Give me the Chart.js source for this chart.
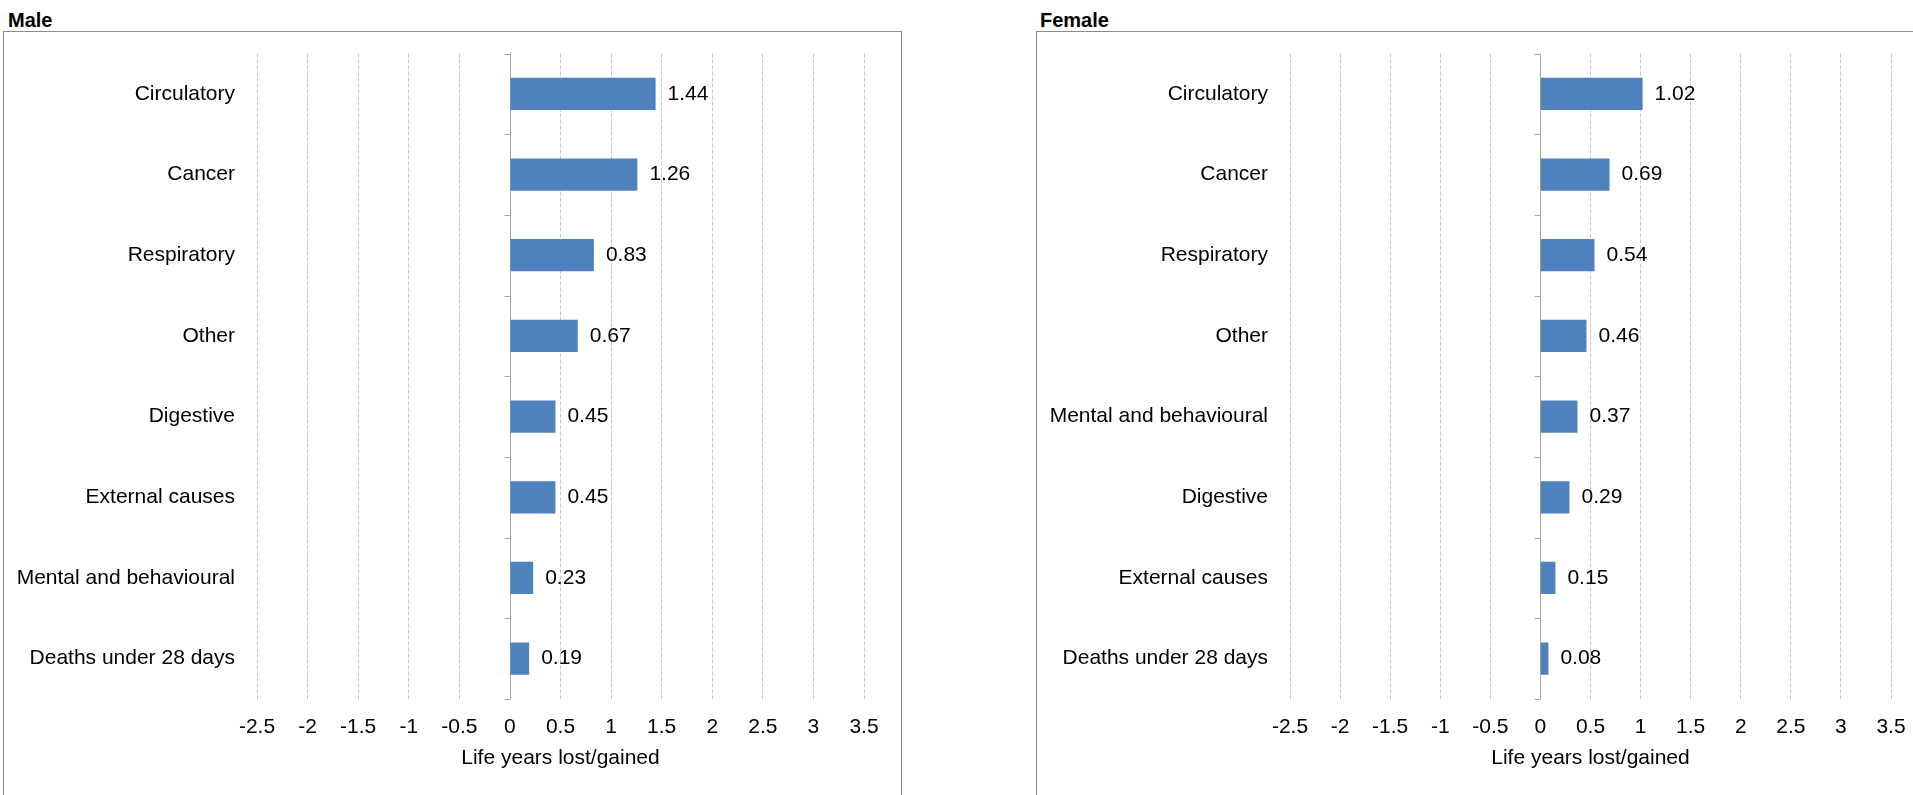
<!DOCTYPE html>
<html>
<head>
<meta charset="utf-8">
<title>Life years lost/gained by cause of death</title>
<script src="https://cdn.jsdelivr.net/npm/chart.js@4.4.0/dist/chart.umd.min.js"></script>
<style>
  html, body { margin: 0; padding: 0; background: #fff; overflow: hidden; width: 1913px; height: 795px; }
  .panel-title { position: absolute; font: bold 20px "Liberation Sans", Arial, sans-serif; color: #000; line-height: 24px; }
  .box { position: absolute; top: 31px; height: 780px; border: 1px solid #8c8c8c; }
  .box canvas { display: block; }
</style>
</head>
<body>
<div class="panel-title" style="left:8px; top:8px;">Male</div>
<div class="box" style="left:3px; width:897px;"><canvas id="maleChart" width="897" height="763"></canvas></div>
<div class="panel-title" style="left:1040px; top:8px;">Female</div>
<div class="box" style="left:1036px; width:897px;"><canvas id="femaleChart" width="897" height="763"></canvas></div>

<script>
// Causes of death, ordered by size within each sex
const maleCauses = [
  "Circulatory", "Cancer", "Respiratory", "Other", "Digestive",
  "External causes", "Mental and behavioural", "Deaths under 28 days"
];
const maleYears = [1.44, 1.26, 0.83, 0.67, 0.45, 0.45, 0.23, 0.19];

const femaleCauses = [
  "Circulatory", "Cancer", "Respiratory", "Other", "Mental and behavioural",
  "Digestive", "External causes", "Deaths under 28 days"
];
const femaleYears = [1.02, 0.69, 0.54, 0.46, 0.37, 0.29, 0.15, 0.08];

// Horizontal axis ticks
const xTickValues = [-2.5, -2, -1.5, -1, -0.5, 0, 0.5, 1, 1.5, 2, 2.5, 3, 3.5];
const xTickLabels = ["-2.5", "-2", "-1.5", "-1", "-0.5", "0", "0.5", "1", "1.5", "2", "2.5", "3", "3.5"];
const xAxisTitle = "Life years lost/gained";

const FONT_FAMILY = '"Liberation Sans", Arial, sans-serif';
const labelFont = { family: FONT_FAMILY, size: 21 };
const BAR_COLOUR = "#4f81bd";

// Solid zero line with short tick marks between categories
const zeroAxis = {
  id: "zeroAxis",
  beforeDatasetsDraw(chart) {
    const { ctx, chartArea, scales } = chart;
    const x0 = Math.round(scales.x.getPixelForValue(0)) + 0.5;
    const n = chart.data.labels.length;
    const step = chartArea.height / n;
    ctx.save();
    ctx.strokeStyle = "#a6a6a6";
    ctx.lineWidth = 1;
    ctx.beginPath();
    ctx.moveTo(x0, chartArea.top);
    ctx.lineTo(x0, chartArea.bottom);
    for (let i = 0; i <= n; i++) {
      const y = Math.round(chartArea.top + i * step) + 0.5;
      ctx.moveTo(x0 - 6, y);
      ctx.lineTo(x0, y);
    }
    ctx.stroke();
    ctx.restore();
  }
};

// Value printed just past the end of each bar
const barValues = {
  id: "barValues",
  afterDatasetsDraw(chart) {
    const { ctx } = chart;
    const ds = chart.data.datasets[0];
    const meta = chart.getDatasetMeta(0);
    ctx.save();
    ctx.font = `${labelFont.size}px ${FONT_FAMILY}`;
    ctx.fillStyle = "#000";
    ctx.textAlign = "left";
    ctx.textBaseline = "middle";
    meta.data.forEach((bar, i) => {
      ctx.fillText(ds.data[i].toFixed(2), bar.x + 12, bar.y);
    });
    ctx.restore();
  }
};

function buildChart(canvasId, causes, years, rightPad) {
  return new Chart(document.getElementById(canvasId), {
    type: "bar",
    data: {
      labels: causes,
      datasets: [{
        data: years,
        backgroundColor: BAR_COLOUR,
        borderWidth: 0,
        barPercentage: 0.4,
        categoryPercentage: 1.0
      }]
    },
    options: {
      indexAxis: "y",
      responsive: false,
      animation: false,
      events: [],
      layout: { padding: { top: 21.5, right: rightPad, left: 0, bottom: 0 } },
      plugins: { legend: { display: false }, tooltip: { enabled: false }, title: { display: false } },
      scales: {
        x: {
          type: "linear",
          min: xTickValues[0],
          max: xTickValues[xTickValues.length - 1],
          afterBuildTicks: (scale) => { scale.ticks = xTickValues.map(v => ({ value: v })); },
          afterFit: (scale) => { scale.height = 96; scale.paddingLeft = 0; scale.paddingRight = 0; },
          ticks: {
            autoSkip: false,
            maxRotation: 0,
            padding: 16,
            color: "#000",
            font: labelFont,
            callback: (value, index) => xTickLabels[index]
          },
          grid: {
            drawTicks: false,
            lineWidth: 1,
            color: (ctx) => (ctx.tick && ctx.tick.value === 0) ? "rgba(0,0,0,0)" : "#c4c4c4"
          },
          border: { display: false, dash: [4, 2] },
          title: {
            display: true,
            text: xAxisTitle,
            color: "#000",
            font: labelFont,
            padding: { top: 0, bottom: 24 }
          }
        },
        y: {
          type: "category",
          afterFit: (scale) => { scale.width = 253; scale.paddingTop = 0; scale.paddingBottom = 0; },
          grid: { display: false, drawTicks: false },
          border: { display: false },
          ticks: { autoSkip: false, padding: 22, color: "#000", font: labelFont }
        }
      }
    },
    plugins: [zeroAxis, barValues]
  });
}

buildChart("maleChart", maleCauses, maleYears, 37);
buildChart("femaleChart", femaleCauses, femaleYears, 43);
</script>
</body>
</html>
